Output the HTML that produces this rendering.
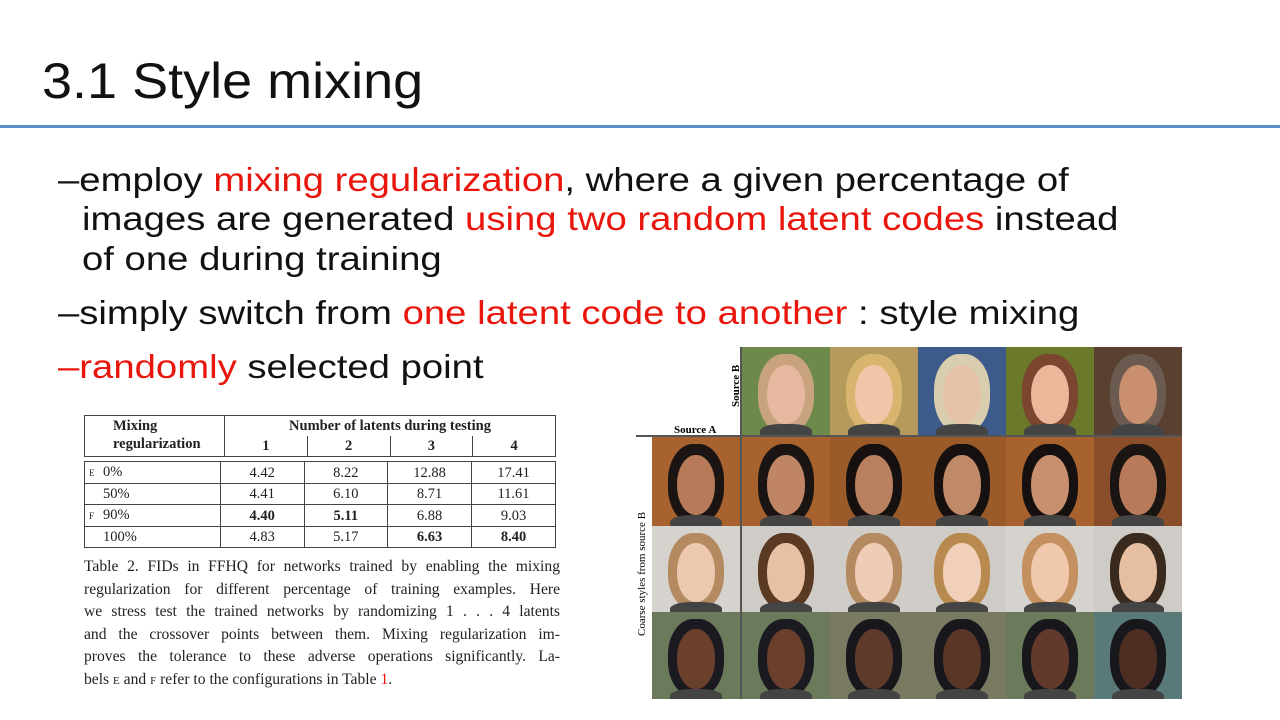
<!DOCTYPE html>
<html><head><meta charset="utf-8"><style>
body{margin:0;width:1280px;height:720px;background:#fff;overflow:hidden;position:relative;font-family:"Liberation Sans","Noto Sans CJK KR",sans-serif}
.a{position:absolute}
.t{font-size:33px;color:#111;white-space:nowrap;line-height:1;transform:scaleX(1.16);transform-origin:left top}
.r{color:#e8160c}
.ser{font-family:"Liberation Serif",serif}
table{border-collapse:collapse}
.cell{position:absolute;overflow:hidden}
.cl{text-align:justify;text-align-last:justify;white-space:nowrap;height:22.6px}
</style></head><body>
<div class="a" style="left:42px;top:56px;font-size:50px;color:#111;line-height:1;transform:scaleX(1.08);transform-origin:left top">3.1 Style mixing</div>
<div class="a" style="left:0;top:125px;width:1280px;height:3px;background:#5b8ec4"></div>
<div class="a t" style="left:58px;top:163px">–employ <span class="r">mixing regularization</span>, where a given percentage of</div>
<div class="a t" style="left:82px;top:202px">images are generated <span class="r">using two random latent codes</span> instead</div>
<div class="a t" style="left:82px;top:242px">of one during training</div>
<div class="a t" style="left:58px;top:296px">–simply switch from <span class="r">one latent code to another</span> : style mixing</div>
<div class="a t" style="left:58px;top:350px"><span class="r">–randomly</span> selected point</div>

<div class="a ser" style="left:84px;top:415px;width:472px;font-size:14.5px;color:#222">
<table style="width:472px;border:1.5px solid #444">
<tr style="font-weight:bold;line-height:18px"><td rowspan="2" style="border-right:1.5px solid #444;padding-left:28px;width:110px;vertical-align:top">Mixing<br>regularization</td><td colspan="4" style="text-align:center">Number of latents during testing</td></tr>
<tr style="font-weight:bold;text-align:center;line-height:18px"><td style="border-right:1px solid #444">1</td><td style="border-right:1px solid #444">2</td><td style="border-right:1px solid #444">3</td><td>4</td></tr>
</table>
<table style="width:472px;border:1.5px solid #444;margin-top:4px;text-align:center">
<tbody id="tb"></tbody></table>
</div>
<div class="a ser" style="left:84px;top:556px;width:476px;font-size:15.6px;line-height:22.6px;color:#222">
<div class="cl">Table 2. FIDs in FFHQ for networks trained by enabling the mixing</div>
<div class="cl">regularization for different percentage of training examples. Here</div>
<div class="cl">we stress test the trained networks by randomizing 1 . . . 4 latents</div>
<div class="cl">and the crossover points between them. Mixing regularization im-</div>
<div class="cl">proves the tolerance to these adverse operations significantly. La-</div>
<div style="white-space:nowrap">bels <span style="font-size:11px">E</span> and <span style="font-size:11px">F</span> refer to the configurations in Table <span style="color:#e8160c">1</span>.</div>
</div>

<div class="a" id="grid" style="left:0;top:0"></div>
<div class="a ser" style="left:674px;top:424px;font-size:11px;font-weight:bold">Source A</div>
<div class="a ser" style="left:730px;top:407px;font-size:11px;font-weight:bold;transform:rotate(-90deg);transform-origin:left top;white-space:nowrap">Source B</div>
<div class="a ser" style="left:636px;top:636px;font-size:11px;transform:rotate(-90deg);transform-origin:left top;white-space:nowrap">Coarse styles from source B</div>
<div class="a" style="left:636px;top:435px;width:546px;height:2px;background:#555"></div>
<div class="a" style="left:740px;top:347px;width:2px;height:352px;background:#555"></div>
<script>
const rowLabels=['0%','50%','90%','100%'];
const marks=['E','','F',''];
const v1=['4.42','4.41','4.40','4.83'];
const v2=['8.22','6.10','5.11','5.17'];
const v3=['12.88','8.71','6.88','6.63'];
const v4=['17.41','11.61','9.03','8.40'];
const bold=[[0,0,0,0],[0,0,0,0],[1,1,0,0],[0,0,1,1]];
const tb=document.getElementById('tb');
rowLabels.forEach((l,i)=>{
 const tr=document.createElement('tr');
 
 
 tr.style.borderTop=i?'1px solid #444':'none';tr.style.lineHeight='18px';
 let h='<td style="text-align:left;width:134px;border-right:1.5px solid #444;padding-left:4px"><span style="font-size:9px;display:inline-block;width:14px">'+marks[i]+'</span>'+l+'</td>';
 [v1,v2,v3,v4].forEach((a,j)=>{h+='<td style="width:83px;'+(j<3?'border-right:1px solid #444;':'')+(bold[i][j]?'font-weight:bold':'')+'">'+a[i]+'</td>';});
 tr.innerHTML=h;tb.appendChild(tr);
});
const topRow=[['#6d8a4a','#c9a37f','#e7b8a0'],['#b59a5c','#d8b56e','#efc6a8'],['#3c5a8a','#d9cdb0','#e6c3a8'],['#6a7a2a','#7a4630','#eab79a'],['#5a4030','#6a5a50','#c98f6e']];
const rowsC=[[['#a8622e','#1a1412','#b77a58'],['#a8622e','#1a1412','#c08565'],['#9b5a2a','#161010','#b8805e'],['#9b5a2a','#161010','#c08a68'],['#a8622e','#161010','#c8906e'],['#8a4f2a','#1a1412','#b87a58']],
[['#d6d3cf','#b48a60','#ecc8b0'],['#cfccc8','#5a3a22','#e8c0a4'],['#d0cdc9','#b48a60','#efccb6'],['#cfccc8','#b88a50','#f0d0ba'],['#d6d3cf','#c49060','#f0c8ac'],['#cfccc8','#3a2a1e','#e6bea2']],
[['#6b7a5a','#1a1a20','#6a3f2c'],['#6b7a5a','#1a1a20','#6a3f2c'],['#7a7a62','#18181c','#5e3a2a'],['#7a7a62','#18181c','#5a3626'],['#6b7a5a','#18181c','#62392a'],['#5a7a7a','#18181c','#4e2e22']]];
const g=document.getElementById('grid');
function cell(x,y,w,h,c){
 const d=document.createElement('div');
 
 
 d.className='cell';d.style.cssText+=`left:${x}px;top:${y}px;width:${w}px;height:${h}px;background:${c[0]}`;
 d.innerHTML=`<div class="a" style="left:${w*.18}px;top:${h*.08}px;width:${w*.64}px;height:${h*.9}px;border-radius:45%;background:${c[1]}"></div><div class="a" style="left:${w*.28}px;top:${h*.2}px;width:${w*.44}px;height:${h*.68}px;border-radius:48%;background:${c[2]}"></div><div class="a" style="left:${w*.2}px;top:${h*.88}px;width:${w*.6}px;height:${h*.2}px;border-radius:40% 40% 0 0;background:#444"></div>`;
 g.appendChild(d);
}
topRow.forEach((c,i)=>cell(742+i*88,347,88,88,c));
const ys=[437,526,612],hs=[89,86,87];
rowsC.forEach((r,ri)=>r.forEach((c,i)=>cell(i?742+(i-1)*88:652,ys[ri],88,hs[ri],c)));
</script>
</body></html>
